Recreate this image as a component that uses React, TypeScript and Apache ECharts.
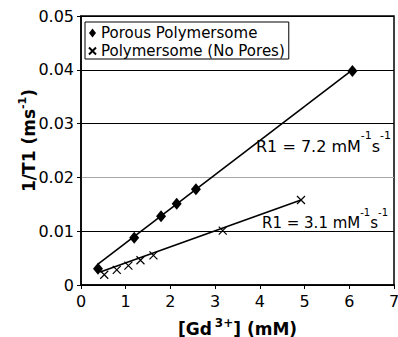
import React, { useEffect, useRef } from 'react';
import * as echarts from 'echarts';

// ---- data ----
const seriesNames = ['Porous Polymersome', 'Polymersome (No Pores)'];
const porousX = [0.38, 1.19, 1.79, 2.14, 2.57, 6.07];
const porousY = [0.003, 0.0088, 0.0128, 0.0151, 0.0178, 0.0398];
const plainX = [0.52, 0.8, 1.06, 1.33, 1.62, 3.17, 4.92];
const plainY = [0.0019, 0.0028, 0.0036, 0.0046, 0.0055, 0.0101, 0.0158];
// linear fits (trend lines)
const porousFitX = [0.38, 6.07];
const porousFitY = [0.0039, 0.04];
const plainFitX = [0.43, 4.92];
const plainFitY = [0.0024, 0.0158];
const xTickLabels = ['0', '1', '2', '3', '4', '5', '6', '7'];
const yTickLabels = ['0', '0.01', '0.02', '0.03', '0.04', '0.05'];
const slopeTexts = ['R1 = 7.2 mM', 'R1 = 3.1 mM'];

const FONT = 'DejaVu Sans';
const CROSS = 'path://M0,0L10,10M10,0L0,10';

const zip = (xs: number[], ys: number[]) => xs.map((x, i) => [x, ys[i]]);

export default function App() {
  const ref = useRef<HTMLDivElement>(null);
  useEffect(() => {
    if (!ref.current) return;
    const chart = echarts.init(ref.current, undefined, { renderer: 'svg' });
    const yMax = Number(yTickLabels[yTickLabels.length - 1]);
    const xMax = Number(xTickLabels[xTickLabels.length - 1]);
    const option: any = {
      animation: false,
      backgroundColor: '#fff',
      grid: {
        left: 81,
        right: 4,
        top: 16,
        bottom: 52,
        containLabel: false,
        outerBoundsMode: 'none',
        show: true,
        borderColor: '#000',
        borderWidth: 1.5,
        backgroundColor: 'transparent',
      },
      legend: {
        data: [
          { name: seriesNames[0], icon: 'diamond' },
          { name: seriesNames[1], icon: CROSS },
        ],
        orient: 'vertical',
        left: 85,
        top: 22,
        padding: [3, 4, 0, 3],
        itemGap: 2,
        itemWidth: 7,
        itemHeight: 9,
        borderColor: '#000',
        borderWidth: 1,
        borderRadius: 0,
        backgroundColor: '#fff',
        selectedMode: false,
        textStyle: { fontFamily: FONT, fontSize: 15, color: '#000', lineHeight: 16 },
      },
      xAxis: {
        type: 'value',
        min: 0,
        max: xMax,
        interval: 1,
        axisLine: { show: true, onZero: false, lineStyle: { color: '#000', width: 1.5 } },
        axisTick: { show: true, inside: false, length: 4, lineStyle: { color: '#000', width: 1 } },
        axisLabel: {
          margin: 8,
          color: '#000',
          fontFamily: FONT,
          fontSize: 16,
          formatter: (v: number) => xTickLabels[Math.round(v)] ?? String(v),
        },
        splitLine: { show: false },
        name: '{b|[Gd}{s|3+}{b|] (mM)}',
        nameLocation: 'middle',
        nameGap: 32,
        nameTextStyle: {
          rich: {
            b: { fontFamily: FONT, fontWeight: 'bold', fontSize: 17, lineHeight: 20, verticalAlign: 'bottom', color: '#000' },
            s: { fontFamily: FONT, fontWeight: 'bold', fontSize: 12, lineHeight: 12, verticalAlign: 'top', color: '#000', padding: [0, 0, 0, 3] },
          },
        },
      },
      yAxis: {
        type: 'value',
        min: 0,
        max: yMax,
        interval: 0.01,
        axisLine: { show: true, onZero: false, lineStyle: { color: '#000', width: 1.5 } },
        axisTick: { show: true, inside: false, length: 4, lineStyle: { color: '#000', width: 1 } },
        axisLabel: {
          margin: 7,
          color: '#000',
          fontFamily: FONT,
          fontSize: 16,
          formatter: (v: number) => yTickLabels[Math.round(v * 100)] ?? String(v),
        },
        splitLine: {
          show: true,
          lineStyle: { color: ['#000', '#000', '#a8a8a8', '#000', '#000', '#000'], width: 1 },
        },
        name: '{b|1/T1 (ms}{s|-1}{b|)}',
        nameLocation: 'middle',
        nameGap: 44,
        nameMoveOverlap: false,
        nameTextStyle: {
          padding: [0, 0, 0, 20],
          rich: {
            b: { fontFamily: FONT, fontWeight: 'bold', fontSize: 17, lineHeight: 20, verticalAlign: 'bottom', color: '#000' },
            s: { fontFamily: FONT, fontWeight: 'bold', fontSize: 11, lineHeight: 12, verticalAlign: 'top', color: '#000' },
          },
        },
      },
      graphic: [
        {
          type: 'text',
          x: 256,
          y: 142,
          z: 100,
          style: {
            text: '{m|' + slopeTexts[0] + '}{s|-1}{m|s}{s|-1}',
            verticalAlign: 'middle',
            fill: '#000',
            rich: {
              m: { fontFamily: FONT, fontSize: 16, padding: [9, 0, 0, 0], verticalAlign: 'bottom', fill: '#000' },
              s: { fontFamily: FONT, fontSize: 11, verticalAlign: 'top', fill: '#000' },
            },
          },
        },
        {
          type: 'text',
          x: 262,
          y: 219,
          z: 100,
          style: {
            text: '{m|' + slopeTexts[1] + '}{s|-1}{m|s}{s|-1}',
            verticalAlign: 'middle',
            fill: '#000',
            rich: {
              m: { fontFamily: FONT, fontSize: 15, padding: [8, 0, 0, 0], verticalAlign: 'bottom', fill: '#000' },
              s: { fontFamily: FONT, fontSize: 10, verticalAlign: 'top', fill: '#000' },
            },
          },
        },
      ],
      series: [
        {
          name: 'fit1',
          type: 'line',
          data: zip(porousFitX, porousFitY),
          symbol: 'none',
          silent: true,
          lineStyle: { color: '#000', width: 1.6 },
          z: 2,
        },
        {
          name: 'fit2',
          type: 'line',
          data: zip(plainFitX, plainFitY),
          symbol: 'none',
          silent: true,
          lineStyle: { color: '#000', width: 1.6 },
          z: 2,
        },
        {
          name: seriesNames[0],
          type: 'scatter',
          data: zip(porousX, porousY),
          symbol: 'diamond',
          symbolSize: [10, 12],
          itemStyle: { color: '#000', opacity: 1 },
          z: 3,
        },
        {
          name: seriesNames[1],
          type: 'scatter',
          data: zip(plainX, plainY),
          symbol: CROSS,
          symbolSize: 8,
          itemStyle: { color: '#000', borderColor: '#000', borderWidth: 1.2, opacity: 1 },
          z: 3,
        },
      ],
    };
    chart.setOption(option);
    return () => chart.dispose();
  }, []);
  return (
    <div
      ref={ref}
      style={{ position: 'fixed', left: 0, top: 0, width: 398, height: 337, background: '#fff' }}
    />
  );
}
